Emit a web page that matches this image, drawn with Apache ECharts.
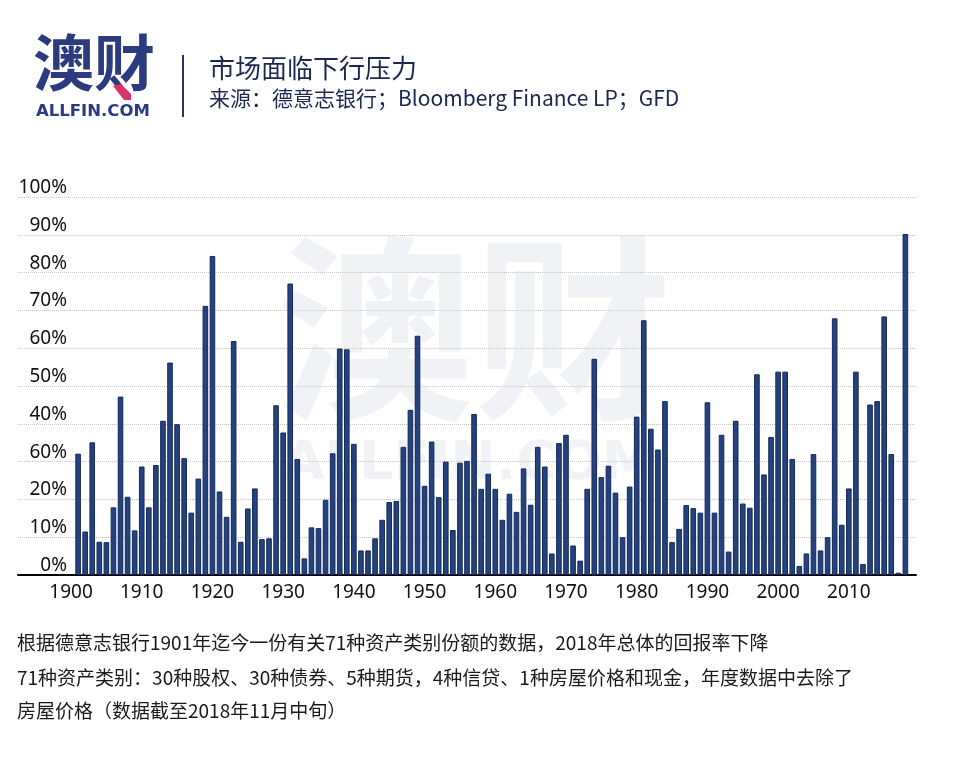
<!DOCTYPE html>
<html>
<head>
<meta charset="utf-8">
<title>市场面临下行压力</title>
<script src="https://cdn.jsdelivr.net/npm/echarts@6/dist/echarts.min.js"></script>
<style>
  html, body { margin: 0; padding: 0; background: #fff; }
  #main { width: 960px; height: 780px; }
</style>
</head>
<body>
<div id="main"></div>
<script>
// 1901 - 2018, 每年的数值（%）
const firstYear = 1901
const returns = [
  32.1, 11.5, 35.1, 8.8, 8.7, 17.9, 47.2, 20.7, 11.8,          // 1901-1909
  28.7, 17.9, 29.1, 40.8, 56.2, 39.9, 30.9, 16.5, 25.5, 71.2,  // 1910s
  84.4, 22.1, 15.4, 61.9, 8.8, 17.6, 22.9, 9.5, 9.7, 44.9,     // 1920s
  37.7, 77.1, 30.7, 4.4, 12.6, 12.4, 19.9, 32.2, 59.9, 59.7,   // 1930s
  34.7, 6.5, 6.5, 9.7, 14.6, 19.3, 19.6, 33.9, 43.7, 63.3,     // 1940s
  23.6, 35.3, 20.6, 30.0, 11.9, 29.7, 30.2, 42.6, 22.8, 26.8,  // 1950s
  22.8, 14.6, 21.5, 16.7, 28.2, 18.6, 33.9, 28.7, 5.7, 34.9,   // 1960s
  37.1, 7.8, 3.8, 22.8, 57.2, 25.9, 28.9, 21.8, 10.0, 23.4,    // 1970s
  41.9, 67.4, 38.7, 33.2, 46.0, 8.7, 12.2, 18.5, 17.7, 16.5,   // 1980s
  45.7, 16.5, 37.1, 6.2, 40.8, 18.9, 17.8, 53.1, 26.6, 36.5,   // 1990s
  53.8, 53.8, 30.7, 2.4, 5.7, 32.0, 6.5, 10.0, 67.9, 13.3,     // 2000s
  22.9, 53.8, 2.9, 45.1, 46.0, 68.4, 32.0, 0.6, 90.2           // 2010-2018
]
// 坐标轴范围（两端留空）
const axisFirstYear = 1893
const axisLastYear = 2019
const xTickYears = [1900, 1910, 1920, 1930, 1940, 1950, 1960, 1970, 1980, 1990, 2000, 2010]
// 原图的纵轴标签（30% 处原图写作 60%）
const yTickLabels = ['0%', '10%', '20%', '60%', '40%', '50%', '60%', '70%', '80%', '90%', '100%']

const noteLines = [
  '根据德意志银行1901年迄今一份有关71种资产类别份额的数据，2018年总体的回报率下降',
  '71种资产类别：30种股权、30种债券、5种期货，4种信贷、1种房屋价格和现金，年度数据中去除了',
  '房屋价格（数据截至2018年11月中旬）'
]

const categories = []
const values = []
for (let y = axisFirstYear; y <= axisLastYear; y++) {
  categories.push(String(y))
  const i = y - firstYear
  values.push(i >= 0 && i < returns.length ? returns[i] : null)
}
const isTickYear = (idx, val) => xTickYears.indexOf(Number(val)) >= 0

const cjk = '"Noto Sans CJK SC", "Noto Sans", sans-serif'
const navy = '#1d2752'
const watermark = '#f1f2f5'

const chart = echarts.init(document.getElementById('main'), null, { renderer: 'canvas' })
chart.setOption({
  backgroundColor: '#fff',
  animation: false,
  grid: { left: 18, right: 44, top: 197, bottom: 205 },
  graphic: [
    // 水印
    { type: 'text', z: -10, silent: true, left: 276, top: 230,
      style: { text: '澳财', fill: watermark, font: 'bold 198px ' + cjk } },
    { type: 'text', z: -10, silent: true, left: 283, top: 438,
      style: { text: 'ALLFIN.COM', fill: watermark, font: 'bold 54px "DejaVu Sans", sans-serif' } },
    // logo
    { type: 'text', left: 33, top: 32,
      style: { text: '澳财', fill: '#2c3a80', font: 'bold 61px ' + cjk } },
    { type: 'polygon', shape: { points: [[113, 86], [121, 84], [131, 94], [131, 100], [124, 100]] },
      style: { fill: '#d9336b' } },
    { type: 'text', left: 36, top: 103,
      style: { text: 'ALLFIN.COM', fill: '#2c3a80', font: 'bold 16.5px "DejaVu Sans", sans-serif' } },
    { type: 'line', shape: { x1: 183, y1: 55, x2: 183, y2: 117 },
      style: { stroke: '#2a3560', lineWidth: 2 } },
    // 标题
    { type: 'text', left: 209, top: 55,
      style: { text: '市场面临下行压力', fill: navy, font: '26px ' + cjk } },
    { type: 'text', left: 209, top: 88,
      style: { text: '来源：德意志银行；Bloomberg Finance LP；GFD', fill: navy, font: '21px ' + cjk } },
    // 说明文字
    { type: 'text', left: 17, top: 633, style: { text: noteLines[0], fill: '#1a1a1a', font: '19px ' + cjk } },
    { type: 'text', left: 17, top: 668, style: { text: noteLines[1], fill: '#1a1a1a', font: '19px ' + cjk } },
    { type: 'text', left: 17, top: 701, style: { text: noteLines[2], fill: '#1a1a1a', font: '19px ' + cjk } }
  ],
  xAxis: {
    type: 'category',
    data: categories,
    boundaryGap: true,
    axisLine: { lineStyle: { color: '#000', width: 2 } },
    axisTick: { alignWithLabel: true, interval: isTickYear, length: 5, lineStyle: { color: '#000', width: 1.5 } },
    axisLabel: { interval: isTickYear, margin: 8, fontSize: 19, color: '#111', fontFamily: '"Noto Sans", sans-serif' },
    splitLine: { show: false }
  },
  yAxis: {
    type: 'value',
    min: 0,
    max: 100,
    interval: 10,
    axisLine: { show: false },
    axisTick: { show: false },
    splitLine: { lineStyle: { type: 'dotted', color: '#c4c4c4', width: 1 } },
    axisLabel: {
      inside: true,
      align: 'right',
      verticalAlign: 'bottom',
      margin: 49,
      fontSize: 19,
      color: '#111',
      fontFamily: '"Noto Sans", sans-serif',
      formatter: v => yTickLabels[Math.round(v / 10)]
    }
  },
  series: [{
    type: 'bar',
    data: values,
    barWidth: 5.6,
    itemStyle: { color: '#24427e', borderColor: '#15295a', borderWidth: 1 }
  }]
})

window.addEventListener('resize', () => chart && chart.resize())
</script>
</body>
</html>
